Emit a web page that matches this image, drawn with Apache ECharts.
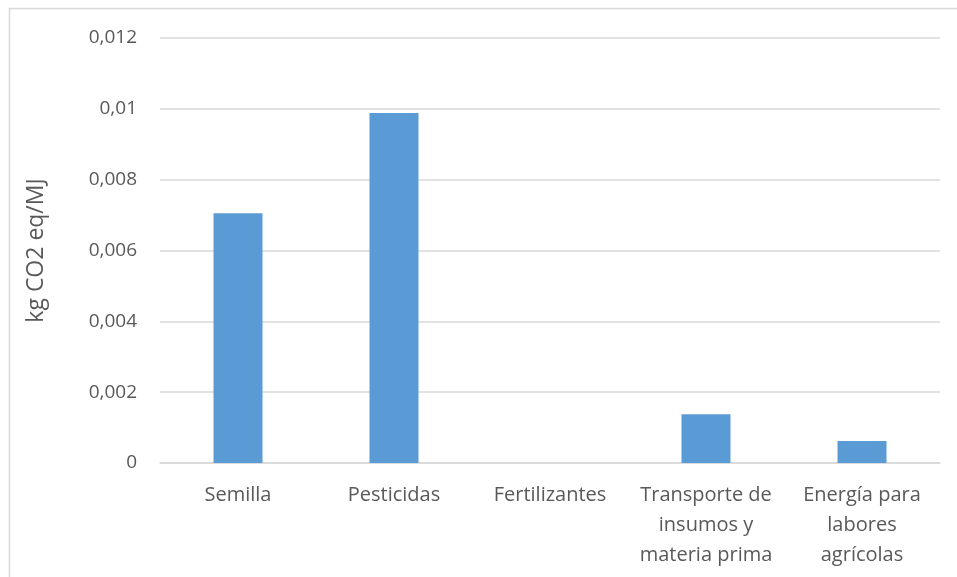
<!DOCTYPE html>
<html>
<head>
<meta charset="utf-8">
<script src="https://cdn.jsdelivr.net/npm/echarts@6/dist/echarts.min.js"></script>
<style>
  html, body { margin: 0; padding: 0; background: #fff; }
  #chart { width: 957px; height: 577px; }
</style>
</head>
<body>
<div id="chart"></div>
<script>
// categorías del eje x
var categories = [
    'Semilla',
    'Pesticidas',
    'Fertilizantes',
    'Transporte de\ninsumos y\nmateria prima',
    'Energía para\nlabores\nagrícolas'
];
// kg CO2 eq/MJ por etapa
var values = [0.00705, 0.00988, 0, 0.00138, 0.00062];

var yMin = 0;
var yMax = 0.012;
var yStep = 0.002;

var chart = echarts.init(document.getElementById('chart'));
var font = '"Open Sans", "Liberation Sans", sans-serif';

var option = {
    animation: false,
    backgroundColor: '#fff',
    // marco exterior del gráfico
    graphic: [{
        type: 'rect',
        shape: { x: 9.5, y: 8.5, width: 960, height: 620 },
        style: { fill: 'none', stroke: '#d9d9d9', lineWidth: 1.5 },
        silent: true
    }],
    grid: {
        left: 160,
        right: 17,
        top: 38,
        bottom: 114
    },
    xAxis: {
        type: 'category',
        data: categories,
        axisTick: { show: false },
        axisLine: { lineStyle: { color: '#d9d9d9', width: 1.5 } },
        axisLabel: {
            color: '#595959',
            fontSize: 20,
            fontFamily: font,
            lineHeight: 30,
            margin: 17,
            interval: 0
        }
    },
    yAxis: {
        type: 'value',
        min: yMin,
        max: yMax,
        interval: yStep,
        name: 'kg CO2 eq/MJ',
        nameLocation: 'middle',
        nameGap: 112,
        nameRotate: 90,
        nameTextStyle: { color: '#595959', fontSize: 23, fontFamily: font },
        axisLine: { show: false },
        axisTick: { show: false },
        splitLine: { lineStyle: { color: '#d9d9d9', width: 1.5 } },
        axisLabel: {
            color: '#595959',
            fontSize: 19,
            fontFamily: font,
            margin: 23,
            formatter: function (v) {
                return String(+v.toFixed(3)).replace('.', ',');
            }
        }
    },
    series: [{
        type: 'bar',
        data: values,
        barWidth: 49,
        itemStyle: { color: '#5b9bd5' }
    }]
};
chart.setOption(option);
</script>
</body>
</html>
